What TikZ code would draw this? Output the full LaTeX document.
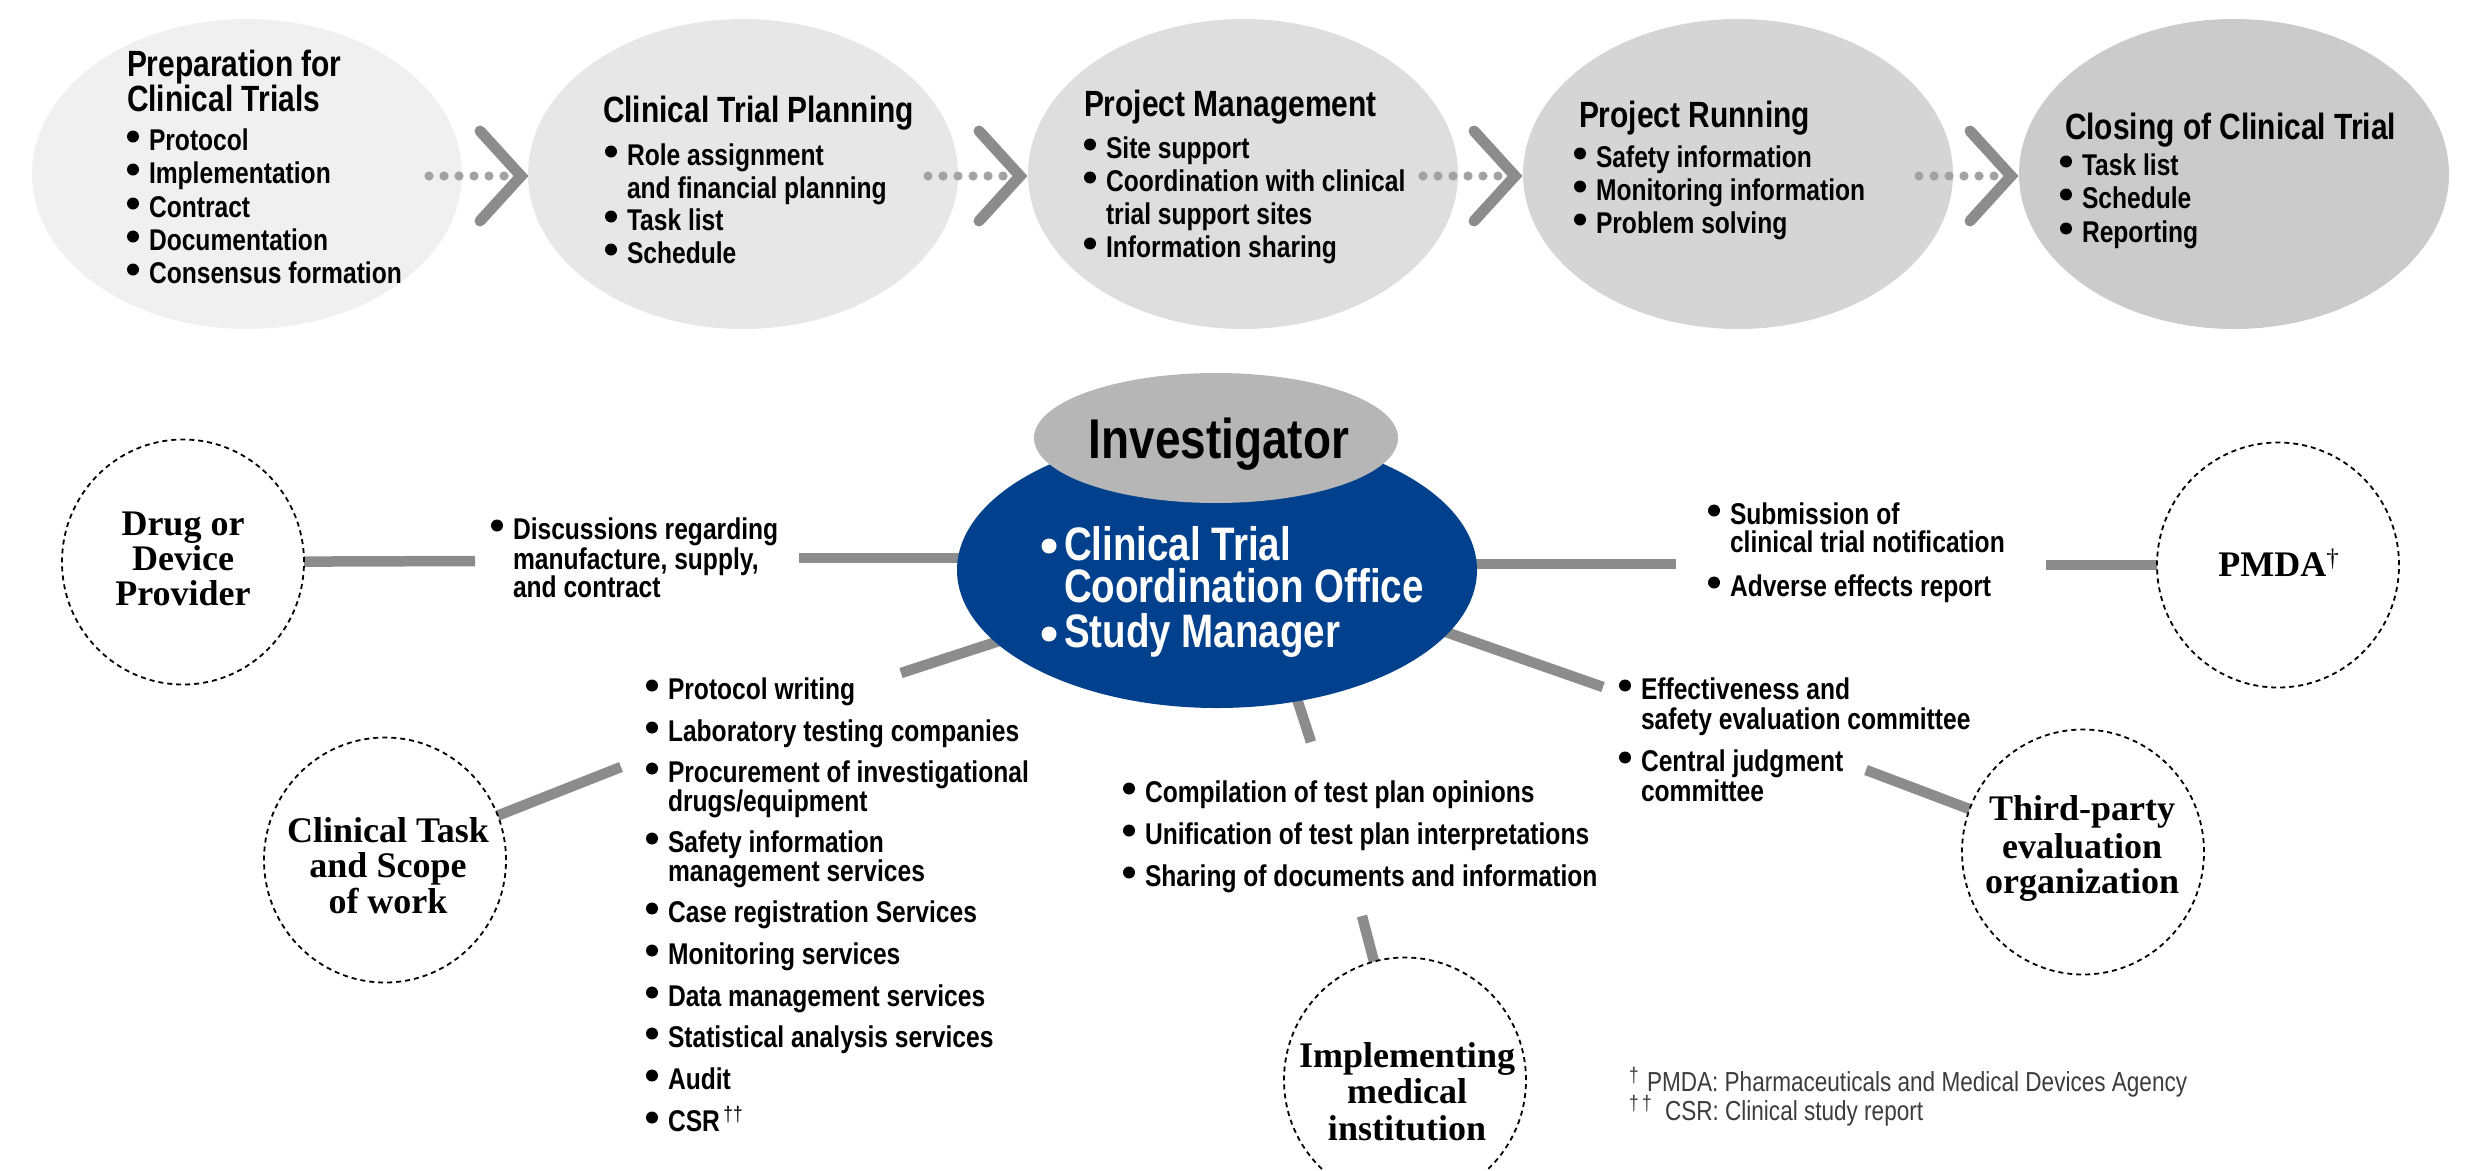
\documentclass[tikz,border=0pt]{standalone}
\usepackage{fontspec}
\usetikzlibrary{shapes.geometric,calc}
\setmainfont{Liberation Sans}
\newfontfamily\cond{Liberation Sans}[FakeStretch=0.82]
\newfontfamily\tms{Liberation Serif}
\definecolor{e1c}{RGB}{240,240,240}
\definecolor{e2c}{RGB}{231,231,231}
\definecolor{e3c}{RGB}{222,222,222}
\definecolor{e4c}{RGB}{213,213,213}
\definecolor{e5c}{RGB}{203,203,203}
\definecolor{barc}{RGB}{140,140,140}
\definecolor{chevc}{RGB}{140,140,140}
\definecolor{dotc}{RGB}{162,162,162}
\definecolor{bluec}{RGB}{0,64,140}
\definecolor{invc}{RGB}{181,182,181}
\definecolor{ftc}{RGB}{60,60,60}
\pgfdeclarelayer{bg}
\pgfsetlayers{bg,main}
% bullet dot for a line of 30pt text whose base-west point is (#1,#2)
\newcommand\bdot[2]{\fill (#1-16,#2-13.5) circle (6);}
\begin{document}
\begin{tikzpicture}[x=1pt,y=-1pt,
  every node/.style={inner sep=0pt,outer sep=0pt},
  topel/.style={ellipse,draw=none,minimum width=430pt,minimum height=310pt},
  ttl/.style={font=\cond\bfseries\fontsize{36.5}{40}\selectfont,anchor=base west},
  itm/.style={font=\cond\bfseries\fontsize{30}{33}\selectfont,anchor=base west},
  bltxt/.style={font=\cond\bfseries\fontsize{47}{50}\selectfont,anchor=base west,text=white},
  invt/.style={font=\cond\bfseries\fontsize{56}{60}\selectfont,anchor=base},
  srf/.style={font=\tms\bfseries\fontsize{36}{37}\selectfont,anchor=base},
  ftn/.style={font=\cond\fontsize{27.5}{30}\selectfont,anchor=base west,text=ftc},
  ftd/.style={font=\cond\fontsize{21}{21}\selectfont,anchor=base west,text=ftc},
  dcirc/.style={ellipse,draw=black,line width=1.8pt,dash pattern=on 5pt off 4pt,minimum width=242pt,minimum height=245pt},
  bar/.style={draw=barc,line width=10.5pt},
  chev/.style={draw=chevc,line width=11pt,line cap=round,line join=miter},
]
\useasboundingbox (0,0) rectangle (2465,1170);
\clip (0,0) rectangle (2465,1170);

% ---------- top process ellipses ----------
\foreach \i/\cx/\c in {1/247/e1c,2/743/e2c,3/1243/e3c,4/1738/e4c,5/2234/e5c}
  \node[topel,fill=\c] (e\i) at (\cx,174) {};

\foreach \L [count=\k] in {529,1028,1523,2019} {
  \foreach \j in {0,...,5} \fill[dotc] (\L-100+15*\j,176) circle (4.6);
  \coordinate (ch\k-a) at (\L-49,131);
  \coordinate (ch\k-b) at (\L-8,176);
  \coordinate (ch\k-c) at (\L-49,221);
  \draw[chev] (ch\k-a) -- (ch\k-b) -- (ch\k-c);
}

\node[ttl] (e1h1) at (127,76) {Preparation for};
\node[ttl] (e1h2) at (127,111) {Clinical Trials};
\foreach \y/\b/\t [count=\i] in {150/1/Protocol,183/1/Implementation,217/1/Contract,250/1/Documentation,283/1/Consensus formation}
  {\node[itm] (e1b\i) at (149,\y) {\t}; \ifnum\b=1 \bdot{149}{\y}\fi}

\node[ttl] (e2h) at (603,122) {Clinical Trial Planning};
\foreach \y/\b/\t [count=\i] in {165/1/Role assignment,198/0/and financial planning,230/1/Task list,263/1/Schedule}
  {\node[itm] (e2b\i) at (627,\y) {\t}; \ifnum\b=1 \bdot{627}{\y}\fi}

\node[ttl] (e3h) at (1084,116) {Project Management};
\foreach \y/\b/\t [count=\i] in {158/1/Site support,191/1/Coordination with clinical,224/0/trial support sites,257/1/Information sharing}
  {\node[itm] (e3b\i) at (1106,\y) {\t}; \ifnum\b=1 \bdot{1106}{\y}\fi}

\node[ttl] (e4h) at (1579,127) {Project Running};
\foreach \y/\b/\t [count=\i] in {167/1/Safety information,200/1/Monitoring information,233/1/Problem solving}
  {\node[itm] (e4b\i) at (1596,\y) {\t}; \ifnum\b=1 \bdot{1596}{\y}\fi}

\node[ttl] (e5h) at (2065,139) {Closing of Clinical Trial};
\foreach \y/\b/\t [count=\i] in {175/1/Task list,208/1/Schedule,242/1/Reporting}
  {\node[itm] (e5b\i) at (2082,\y) {\t}; \ifnum\b=1 \bdot{2082}{\y}\fi}

% ---------- centre ----------
\node[ellipse,fill=bluec,minimum width=520pt,minimum height=276pt] (blue) at (1217,570) {};
\node[ellipse,fill=invc,minimum width=364pt,minimum height=130pt] (inv) at (1216,438) {};
\node[invt] (invtext) at (1219,458) {Investigator};
\node[bltxt] (bl1) at (1064,560) {Clinical Trial};
\node[bltxt] (bl2) at (1064,602) {Coordination Office};
\node[bltxt] (bl3) at (1064,647) {Study Manager};
\fill[white] (1049,546) circle (7.5);
\fill[white] (1049,634) circle (7.5);

% ---------- partners ----------
\node[dcirc] (drug) at (183,562) {};
\foreach \y/\t [count=\i] in {535/Drug or,570/Device,605/Provider}
  \node[srf] (drugl\i) at (183,\y) {\t};
\node[dcirc] (task) at (385,860) {};
\foreach \y/\t [count=\i] in {842/Clinical Task,877/and Scope,913/of work}
  \node[srf] (taskl\i) at (388,\y) {\t};
\node[dcirc] (pmda) at (2278,565) {};
\node[srf] (pmdal) at (2279,576) {PMDA\textsuperscript{\mdseries †}};
\node[dcirc] (third) at (2083,852) {};
\foreach \y/\t [count=\i] in {820/Third-party,858/evaluation,893/organization}
  \node[srf] (thirdl\i) at (2082,\y) {\t};
\node[dcirc] (impl) at (1405,1080) {};
\foreach \y/\t [count=\i] in {1067/Implementing,1103/medical,1140/institution}
  \node[srf] (impll\i) at (1407,\y) {\t};

% ---------- item lists ----------
\foreach \y/\b/\t [count=\i] in {539/1/Discussions regarding,569/0/{manufacture, supply,},597/0/and contract}
  {\node[itm] (disc\i) at (513,\y) {\t}; \ifnum\b=1 \bdot{513}{\y}\fi}

\foreach \y/\b/\t [count=\i] in {699/1/{Protocol writing},741/1/{Laboratory testing companies},782/1/{Procurement of investigational},811/0/{drugs/equipment},852/1/{Safety information},881/0/{management services},922/1/{Case registration Services},964/1/{Monitoring services},1006/1/{Data management services},1047/1/{Statistical analysis services},1089/1/{Audit}}
  {\node[itm] (scope\i) at (668,\y) {\t}; \ifnum\b=1 \bdot{668}{\y}\fi}
\node[itm] (scope12) at (668,1131) {CSR\textsuperscript{\mdseries\,††}};
\bdot{668}{1131}

\foreach \y/\t [count=\i] in {802/Compilation of test plan opinions,844/Unification of test plan interpretations,886/Sharing of documents and information}
  {\node[itm] (mid\i) at (1145,\y) {\t}; \bdot{1145}{\y}}

\foreach \y/\b/\t [count=\i] in {524/1/Submission of,552/0/clinical trial notification,596/1/Adverse effects report}
  {\node[itm] (pm\i) at (1730,\y) {\t}; \ifnum\b=1 \bdot{1730}{\y}\fi}

\foreach \y/\b/\t [count=\i] in {699/1/Effectiveness and,729/0/safety evaluation committee,771/1/Central judgment,801/0/committee}
  {\node[itm] (ev\i) at (1641,\y) {\t}; \ifnum\b=1 \bdot{1641}{\y}\fi}

% ---------- footnotes ----------
\node[ftd] (fn1d) at (1629,1082) {†};
\node[ftn] (fn1) at (1647,1091) {PMDA: Pharmaceuticals and Medical Devices Agency};
\node[ftd] (fn2d) at (1629,1110) {†\,†};
\node[ftn] (fn2) at (1665,1120) {CSR: Clinical study report};

% ---------- connectors ----------
\begin{pgfonlayer}{bg}
\coordinate (a1) at (475,561);
\draw[bar] (drug) -- (a1);
\coordinate (b1) at (799,558);
\draw[bar] (b1) -- (blue.center |- b1);
\coordinate (c1) at (1676,564);
\draw[bar] (c1) -- (blue.center |- c1);
\coordinate (d1) at (2046,565);
\draw[bar] (d1) -- (pmda);
\coordinate (r1) at (1603,687);
\coordinate (r0) at (1400,616);
\draw[bar] (r1) -- (r0);
\coordinate (f1) at (1866,770);
\draw[bar] (f1) -- (third);
\coordinate (g1) at (901,673);
\draw[bar] (g1) -- (blue.center);
\coordinate (h1) at (621,767);
\draw[bar] (task) -- (h1);
\coordinate (i1) at (1311,742);
\coordinate (i0) at (1285,662);
\draw[bar] (i1) -- (i0);
\coordinate (j1) at (1362,916);
\draw[bar] (j1) -- (impl);
\end{pgfonlayer}
\end{tikzpicture}
\end{document}
